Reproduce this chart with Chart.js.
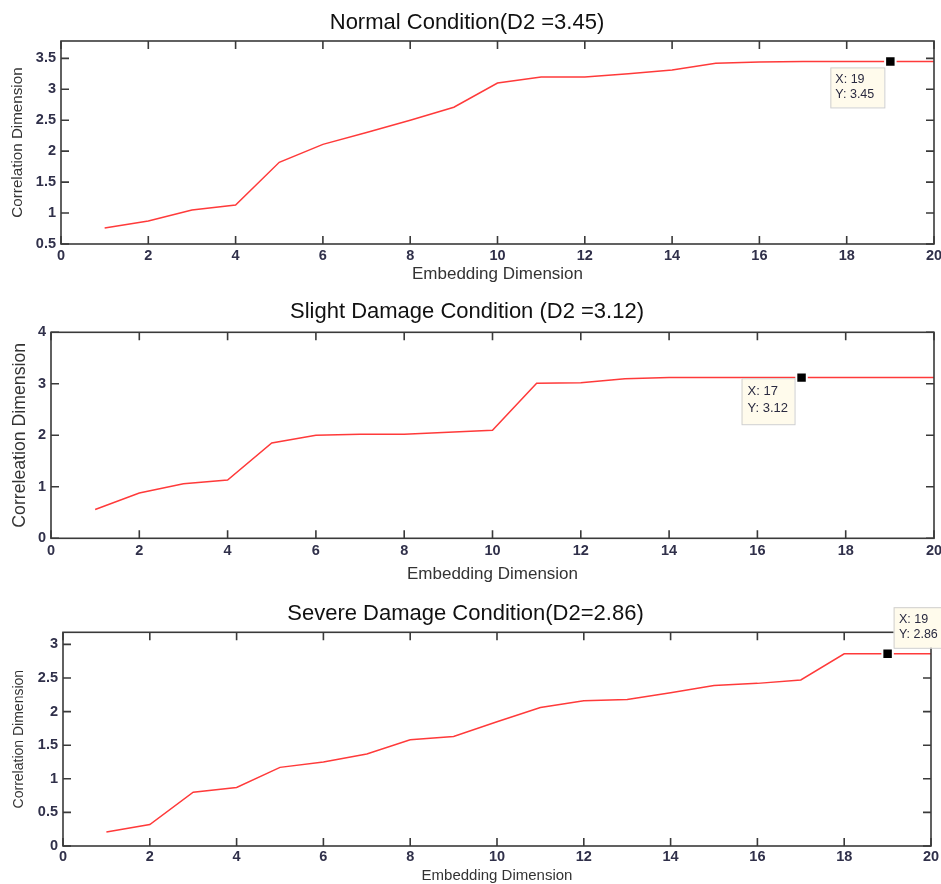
<!DOCTYPE html>
<html>
<head>
<meta charset="utf-8">
<script src="https://cdn.jsdelivr.net/npm/chart.js@4.4.1/dist/chart.umd.min.js"></script>
<style>
  html, body { margin: 0; padding: 0; background: #fff; }
  canvas { display: block; }
</style>
</head>
<body>
<canvas id="c1" width="941" height="290"></canvas>
<canvas id="c2" width="941" height="300"></canvas>
<canvas id="c3" width="941" height="294"></canvas>
<script>
// Correlation dimension vs embedding dimension, three bearing conditions

const dims = [1, 2, 3, 4, 5, 6, 7, 8, 9, 10, 11, 12, 13, 14, 15, 16, 17, 18, 19, 20];
const normalD2 = [0.76, 0.87, 1.05, 1.13, 1.82, 2.11, 2.30, 2.50, 2.71, 3.10, 3.20, 3.20, 3.25, 3.31, 3.42, 3.44, 3.45, 3.45, 3.45, 3.45];
const slightD2 = [0.56, 0.88, 1.06, 1.13, 1.85, 2.00, 2.02, 2.02, 2.06, 2.10, 3.01, 3.02, 3.10, 3.12, 3.12, 3.12, 3.12, 3.12, 3.12, 3.12];
const severeD2 = [0.21, 0.32, 0.80, 0.87, 1.17, 1.25, 1.37, 1.58, 1.63, 1.85, 2.06, 2.16, 2.18, 2.28, 2.39, 2.42, 2.47, 2.86, 2.86, 2.86];

const xTicks = [0, 2, 4, 6, 8, 10, 12, 14, 16, 18, 20];
const yTicksNormal = [0.5, 1, 1.5, 2, 2.5, 3, 3.5];
const yTicksSlight = [0, 1, 2, 3, 4];
const yTicksSevere = [0, 0.5, 1, 1.5, 2, 2.5, 3];

const titles = ['Normal Condition(D2 =3.45)', 'Slight Damage Condition (D2 =3.12)', 'Severe Damage Condition(D2=2.86)'];
const yTitles = ['Correlation Dimension', 'Correleation Dimension', 'Correlation Dimension'];
const xTitle = 'Embedding Dimension';
const tipDims = [19, 17, 19];

const FONT = "'Liberation Sans', Arial, sans-serif";
const TICK_COLOR = '#30304a';

const panels = [
  {id: 'c1', values: normalD2, yTicks: yTicksNormal, yMin: 0.5, yMax: 3.78,
   titlePad: {top: 9.3, bottom: 5.3}, yWidth: 61, xHeight: 46, padRight: 7,
   tickSize: 14.5, xTickPad: 3, xTitleSize: 17, xTitlePad: 5.8, yTitleSize: 15.2, yTitlePad: 8.4,
   tip: {dx: -60, dy: 6, w: 54, h: 40, padX: 5, l1: 12, l2: 26.7, size: 12.5}},
  {id: 'c2', values: slightD2, yTicks: yTicksSlight, yMin: 0, yMax: 4,
   titlePad: {top: 8.3, bottom: 7.6}, yWidth: 51, xHeight: 51.7, padRight: 7,
   tickSize: 14.5, xTickPad: 4.4, xTitleSize: 17, xTitlePad: 5.8, yTitleSize: 17.7, yTitlePad: 9.1,
   tip: {dx: -60, dy: 0.6, w: 53, h: 46, padX: 6, l1: 13.4, l2: 30.7, size: 13}},
  {id: 'c3', values: severeD2, yTicks: yTicksSevere, yMin: 0, yMax: 3.18,
   titlePad: {top: 10.3, bottom: 5.6}, yWidth: 63, xHeight: 38, padRight: 10,
   tickSize: 14.5, xTickPad: 2.7, xTitleSize: 15, xTitlePad: 0.5, yTitleSize: 14, yTitlePad: 10.4,
   tip: {dx: 6, dy: -46.6, w: 60, h: 40.6, padX: 5.3, l1: 12.6, l2: 27.6, size: 12.5}}
];

// axes box with inward ticks on all four sides (MATLAB style)
const framePlugin = {
  id: 'frame',
  afterDatasetsDraw(chart) {
    const {ctx, chartArea: a, scales: {x, y}} = chart;
    const len = 8;
    ctx.save();
    ctx.strokeStyle = '#3a3a3a';
    ctx.lineWidth = 1.6;
    ctx.strokeRect(a.left, a.top, a.right - a.left, a.bottom - a.top);
    ctx.beginPath();
    x.ticks.forEach(t => {
      const px = x.getPixelForValue(t.value);
      ctx.moveTo(px, a.bottom); ctx.lineTo(px, a.bottom - len);
      ctx.moveTo(px, a.top); ctx.lineTo(px, a.top + len);
    });
    y.ticks.forEach(t => {
      const py = y.getPixelForValue(t.value);
      ctx.moveTo(a.left, py); ctx.lineTo(a.left + len, py);
      ctx.moveTo(a.right, py); ctx.lineTo(a.right - len, py);
    });
    ctx.stroke();
    ctx.restore();
  }
};

function datatipPlugin(tipX, tipY, t) {
  return {
    id: 'datatip',
    afterDraw(chart) {
      const {ctx, scales: {x, y}} = chart;
      const bx = x.getPixelForValue(tipX) + t.dx;
      const by = y.getPixelForValue(tipY) + t.dy;
      ctx.save();
      ctx.fillStyle = '#fffbec';
      ctx.fillRect(bx, by, t.w, t.h);
      ctx.strokeStyle = '#cfcfcf';
      ctx.lineWidth = 1;
      ctx.strokeRect(bx + 0.5, by + 0.5, t.w, t.h);
      ctx.fillStyle = '#2a2a40';
      ctx.font = t.size + 'px ' + FONT;
      ctx.textBaseline = 'middle';
      ctx.textAlign = 'left';
      ctx.fillText('X: ' + tipX, bx + t.padX, by + t.l1);
      ctx.fillText('Y: ' + tipY.toFixed(2), bx + t.padX, by + t.l2);
      ctx.restore();
    }
  };
}

panels.forEach((p, i) => {
  const tipX = tipDims[i];
  const tipY = p.values[dims.indexOf(tipX)];
  new Chart(document.getElementById(p.id).getContext('2d'), {
    type: 'line',
    data: {
      datasets: [
        {
          data: dims.map((d, k) => ({x: d, y: p.values[k]})),
          borderColor: '#ff3a3a',
          borderWidth: 1.5,
          pointRadius: 0,
          tension: 0,
          fill: false,
          order: 1
        },
        {
          data: [{x: tipX, y: tipY}],
          showLine: false,
          pointStyle: 'rect',
          pointRadius: 7.4,
          pointBackgroundColor: '#000',
          pointBorderColor: '#fff',
          pointBorderWidth: 2,
          order: 0
        }
      ]
    },
    options: {
      responsive: false,
      animation: false,
      events: [],
      layout: {autoPadding: false, padding: {left: 0, right: p.padRight, top: 0, bottom: 0}},
      scales: {
        x: {
          type: 'linear', min: 0, max: 20,
          afterBuildTicks: a => { a.ticks = xTicks.map(v => ({value: v})); },
          afterFit: a => { a.height = p.xHeight; a.paddingLeft = 0; a.paddingRight = 0; },
          grid: {display: false, drawTicks: false},
          border: {display: false},
          ticks: {autoSkip: false, maxRotation: 0, padding: p.xTickPad, color: TICK_COLOR,
                  font: {family: FONT, size: p.tickSize, weight: 'bold'}, callback: v => String(v)},
          title: {display: true, text: xTitle, color: '#333', font: {family: FONT, size: p.xTitleSize, lineHeight: i === 2 ? 1 : 1.2},
                  padding: {top: 0, bottom: p.xTitlePad}}
        },
        y: {
          type: 'linear', min: p.yMin, max: p.yMax,
          afterBuildTicks: a => { a.ticks = p.yTicks.map(v => ({value: v})); },
          afterFit: a => { a.width = p.yWidth; a.paddingTop = 0; a.paddingBottom = 0; },
          grid: {display: false, drawTicks: false},
          border: {display: false},
          ticks: {autoSkip: false, padding: 5, color: TICK_COLOR,
                  font: {family: FONT, size: p.tickSize, weight: 'bold'}, callback: v => String(v)},
          title: {display: true, text: yTitles[i], color: '#333', font: {family: FONT, size: p.yTitleSize},
                  padding: {top: p.yTitlePad, bottom: 0}}
        }
      },
      plugins: {
        legend: {display: false},
        tooltip: {enabled: false},
        title: {display: true, text: titles[i], color: '#111', font: {family: FONT, size: 22, weight: 'normal'},
                padding: p.titlePad}
      }
    },
    plugins: [framePlugin, datatipPlugin(tipX, tipY, p.tip)]
  });
});
</script>
</body>
</html>
